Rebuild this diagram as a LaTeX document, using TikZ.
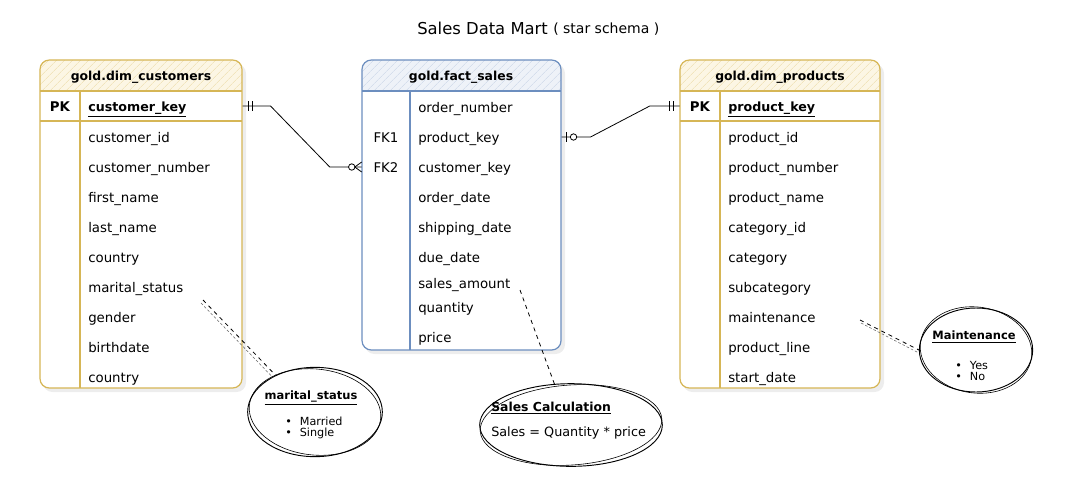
\documentclass[tikz,border=0pt]{standalone}
\usepackage{fontspec}
\setmainfont{DejaVu Sans}
\usetikzlibrary{patterns.meta,calc,shapes.geometric}
\definecolor{ybord}{HTML}{D6B656}
\definecolor{yfill}{HTML}{FCF6E4}
\definecolor{yhatch}{HTML}{F1E4BC}
\definecolor{bbord}{HTML}{6C8EBF}
\definecolor{bfill}{HTML}{EEF2F8}
\definecolor{bhatch}{HTML}{D5DEEC}
\begin{document}
\begin{tikzpicture}[x=0.75pt,y=-0.75pt,
  every node/.style={inner sep=0pt},
  ttl/.style={font=\fontsize{12.3}{14}\selectfont},
  subttl/.style={font=\fontsize{10.5}{12}\selectfont},
  hdr/.style={font=\bfseries\fontsize{9.3}{11}\selectfont},
  fld/.style={anchor=west, inner xsep=6pt, inner ysep=0pt, align=left,
    text height=10pt, text depth=1.5pt, font=\fontsize{10}{12}\selectfont},
  keyf/.style={fld, font=\bfseries\fontsize{9.5}{11}\selectfont},
  kc/.style={anchor=center, inner sep=0pt, text height=10pt, text depth=1.5pt,
    font=\fontsize{10}{12}\selectfont},
  kcb/.style={kc, font=\bfseries\fontsize{10}{12}\selectfont},
  ytab/.style={draw=ybord, line width=0.9pt, rounded corners=7pt},
  btab/.style={draw=bbord, line width=0.9pt, rounded corners=7pt},
  yline/.style={draw=ybord, line width=0.8pt},
  bline/.style={draw=bbord, line width=0.8pt},
  shadow/.style={fill=black, opacity=0.07, rounded corners=7pt},
  conn/.style={draw=black, line width=0.6pt},
  notel/.style={draw=black, dashed, line width=0.6pt},
  noteb/.style={draw=black!60, dash pattern=on 2pt off 1.5pt, line width=0.4pt},
  sk/.style={draw=black, line width=0.7pt},
  sk2/.style={draw=black, line width=0.45pt},
  ntitle/.style={font=\bfseries\fontsize{8.6}{10}\selectfont},
  nsmall/.style={font=\fontsize{8.4}{9.5}\selectfont, align=left},
  nbody/.style={font=\fontsize{9.6}{11}\selectfont}
]
\useasboundingbox (0,0) rectangle (1080,490);
\fill[white] (0,0) rectangle (1080,490);

% ---------- title ----------
\node[ttl, anchor=west] (title) at (417,28) {Sales Data Mart};
\node[subttl, anchor=west] (subtitle) at (553,29) {( star schema )};

% ---------- shadows ----------
\fill[shadow] (43,64) rectangle (246,392);
\fill[shadow] (365,64) rectangle (565,354);
\fill[shadow] (683,64) rectangle (884,392);

% ---------- gold.dim_customers ----------
\path[fill=white, rounded corners=7pt] (40,60) rectangle (242,388);
\path[fill=yfill] (40,91) [rounded corners=7pt] -- (40,60) -- (242,60) [sharp corners] -- (242,91) -- cycle;
\path[pattern={Lines[angle=45,distance=4pt,line width=0.5pt]}, pattern color=yhatch]
  (40,91) [rounded corners=7pt] -- (40,60) -- (242,60) [sharp corners] -- (242,91) -- cycle;
\draw[ytab] (40,60) rectangle (242,388);
\draw[yline] (40,91) -- (242,91);
\draw[yline] (40,121) -- (242,121);
\draw[yline] (80,91) -- (80,388);
\node[hdr] (custh) at (141,77) {gold.dim\_customers};
\node[kcb, minimum width=30pt] (cpk) at (60,106) {PK};
\begin{scope}[every node/.append style={text width=109.5pt}]
\node[keyf] (ck) at (80,106) {\underline{customer\_key}};
\node[fld] (c1) at (80,137) {customer\_id};
\node[fld] (c2) at (80,167) {customer\_number};
\node[fld] (c3) at (80,197) {first\_name};
\node[fld] (c4) at (80,227) {last\_name};
\node[fld] (c5) at (80,257) {country};
\node[fld] (c6) at (80,287) {marital\_status};
\node[fld] (c7) at (80,317) {gender};
\node[fld] (c8) at (80,347) {birthdate};
\node[fld] (c9) at (80,377) {country};
\end{scope}

% ---------- gold.fact_sales ----------
\path[fill=white, rounded corners=7pt] (362,60) rectangle (561,350);
\path[fill=bfill] (362,91) [rounded corners=7pt] -- (362,60) -- (561,60) [sharp corners] -- (561,91) -- cycle;
\path[pattern={Lines[angle=45,distance=4pt,line width=0.5pt]}, pattern color=bhatch]
  (362,91) [rounded corners=7pt] -- (362,60) -- (561,60) [sharp corners] -- (561,91) -- cycle;
\draw[btab] (362,60) rectangle (561,350);
\draw[bline] (362,91) -- (561,91);
\draw[bline] (410,91) -- (410,350);
\node[hdr] (facth) at (461,77) {gold.fact\_sales};
\node[kc, minimum width=36pt] (fk1) at (386,137) {FK1};
\node[kc, minimum width=36pt] (fk2) at (386,167) {FK2};
\begin{scope}[every node/.append style={text width=101.25pt}]
\node[fld] (f1) at (410,107) {order\_number};
\node[fld] (f2) at (410,137) {product\_key};
\node[fld] (f3) at (410,167) {customer\_key};
\node[fld] (f4) at (410,197) {order\_date};
\node[fld] (f5) at (410,227) {shipping\_date};
\node[fld] (f6) at (410,257) {due\_date};
\node[fld] (f7) at (410,283) {sales\_amount};
\node[fld] (f8) at (410,307) {quantity};
\node[fld] (f9) at (410,337) {price};
\end{scope}

% ---------- gold.dim_products ----------
\path[fill=white, rounded corners=7pt] (680,60) rectangle (880,388);
\path[fill=yfill] (680,91) [rounded corners=7pt] -- (680,60) -- (880,60) [sharp corners] -- (880,91) -- cycle;
\path[pattern={Lines[angle=45,distance=4pt,line width=0.5pt]}, pattern color=yhatch]
  (680,91) [rounded corners=7pt] -- (680,60) -- (880,60) [sharp corners] -- (880,91) -- cycle;
\draw[ytab] (680,60) rectangle (880,388);
\draw[yline] (680,91) -- (880,91);
\draw[yline] (680,121) -- (880,121);
\draw[yline] (720,91) -- (720,388);
\node[hdr] (prodh) at (780,77) {gold.dim\_products};
\node[kcb, minimum width=30pt] (ppk) at (700,106) {PK};
\begin{scope}[every node/.append style={text width=108pt}]
\node[keyf] (pk) at (720,106) {\underline{product\_key}};
\node[fld] (p1) at (720,137) {product\_id};
\node[fld] (p2) at (720,167) {product\_number};
\node[fld] (p3) at (720,197) {product\_name};
\node[fld] (p4) at (720,227) {category\_id};
\node[fld] (p5) at (720,257) {category};
\node[fld] (p6) at (720,287) {subcategory};
\node[fld] (p7) at (720,317) {maintenance};
\node[fld] (p8) at (720,347) {product\_line};
\node[fld] (p9) at (720,377) {start\_date};
\end{scope}

% ---------- relationships ----------
% customers (one, mandatory) -> fact (zero or many)
\draw[conn] (ck.east) -- ++(28,0) -- ($(fk2.west)+(-32,0)$) -- (fk2.west);
\draw[conn] ($(ck.east)+(6,-5)$) -- ($(ck.east)+(6,5)$);
\draw[conn] ($(ck.east)+(10,-5)$) -- ($(ck.east)+(10,5)$);
\draw[conn] ($(fk2.west)+(-7,0)$) -- ($(fk2.west)+(0,-5)$);
\draw[conn] ($(fk2.west)+(-7,0)$) -- ($(fk2.west)+(0,5)$);
\draw[conn, fill=white] ($(fk2.west)+(-10,0)$) circle[radius=2.4pt];

% fact (zero or one) -> products (one, mandatory)
\draw[conn] (f2.east) -- ++(29,0) -- ($(ppk.west)+(-30,0)$) -- (ppk.west);
\draw[conn] ($(f2.east)+(5,-5)$) -- ($(f2.east)+(5,5)$);
\draw[conn, fill=white] ($(f2.east)+(12,0)$) circle[radius=2.4pt];
\draw[conn] ($(ppk.west)+(-10,-5)$) -- ($(ppk.west)+(-10,5)$);
\draw[conn] ($(ppk.west)+(-6,-5)$) -- ($(ppk.west)+(-6,5)$);

% ---------- notes ----------
% marital_status
\node[ellipse, sk, minimum width=101pt, minimum height=67pt, fill=white] (mell) at (315,412) {};
\draw[sk2, rotate around={-6:(315,412)}] (315,412) ellipse[x radius=66, y radius=43];
\node[ntitle] (mtitle) at (311,398) {\underline{marital\_status}};
\node[nsmall, anchor=west] (mlist) at (285,428) {\textbullet\hspace{6pt}Married\\[-1.5pt]\textbullet\hspace{6pt}Single};
\coordinate (msnote) at (203,300);
\draw[notel] (msnote) -- (mell.137);
\draw[noteb] ($(msnote)+(-2,3)$) -- ($(mell.137)+(-3,2)$);

% Sales Calculation
\node[ellipse, sk, minimum width=137pt, minimum height=62pt, fill=white] (sell) at (571,425) {};
\draw[sk2, rotate around={4:(571,425)}] (571,425) ellipse[x radius=91, y radius=40];
\node[ntitle, anchor=west, font=\bfseries\fontsize{9.3}{11}\selectfont] (stitle) at (491,408) {\underline{Sales Calculation}};
\node[nbody, anchor=west] (sbody) at (491,433) {Sales = Quantity * price};
\coordinate (sanote) at (520,290);
\draw[notel] (sanote) -- (sell.112);

% Maintenance
\node[ellipse, sk, minimum width=85pt, minimum height=63pt, fill=white] (tell) at (976,350) {};
\draw[sk2, rotate around={-8:(976,350)}] (976,350) ellipse[x radius=56, y radius=43];
\node[ntitle] (ttitle) at (974,337) {\underline{Maintenance}};
\node[nsmall, anchor=west] (tlist) at (955,371) {\textbullet\hspace{6pt}Yes\\[-1.5pt]\textbullet\hspace{6pt}No};
\coordinate (mtnote) at (860,320);
\draw[notel] (mtnote) -- (tell.west);
\draw[noteb] ($(mtnote)+(1,3)$) -- ($(tell.west)+(0,3)$);
\end{tikzpicture}
\end{document}
